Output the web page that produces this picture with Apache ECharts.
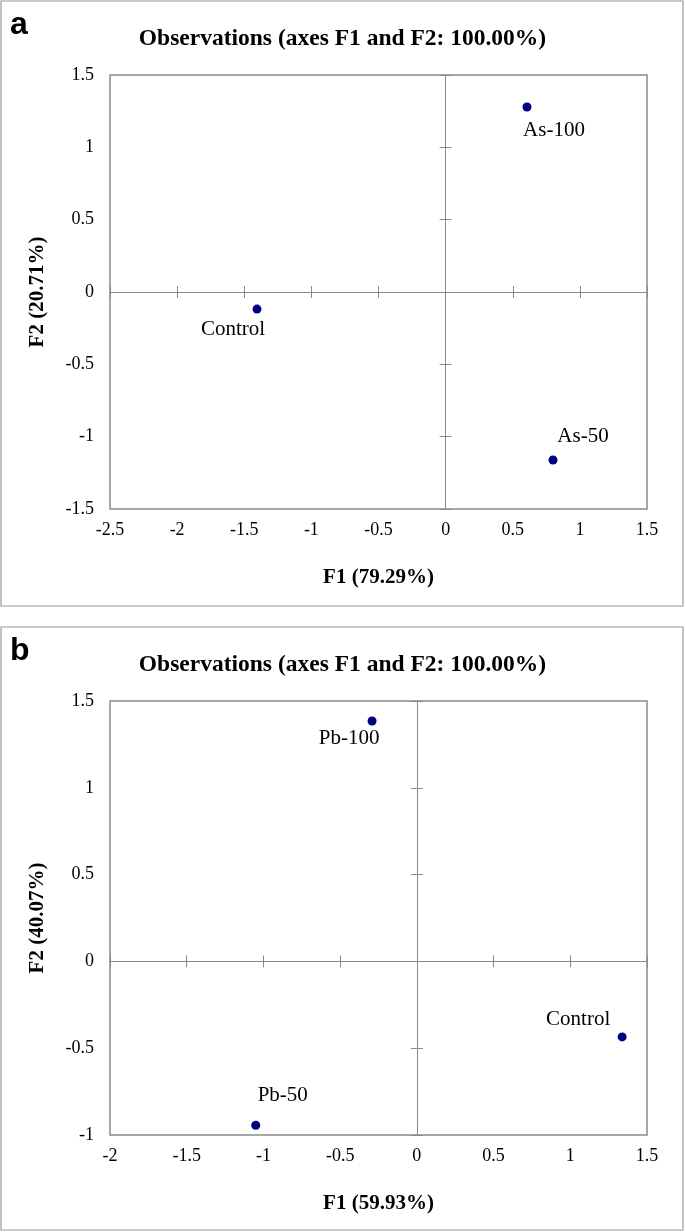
<!DOCTYPE html>
<html>
<head>
<meta charset="utf-8">
<script src="https://cdn.jsdelivr.net/npm/echarts@6/dist/echarts.min.js"></script>
<style>
html,body{margin:0;padding:0;background:#fff;}
#chart{width:685px;height:1232px;}
</style>
</head>
<body>
<div id="chart"></div>
<script>
// ---- data ----
const namesA = ['As-100', 'Control', 'As-50'];
const f1A = [0.606, -1.405, 0.80];
const f2A = [1.279, -0.118, -1.161];
const xNameA = 'F1 (79.29%)';
const yNameA = 'F2 (20.71%)';

const namesB = ['Pb-100', 'Control', 'Pb-50'];
const f1B = [-0.292, 1.338, -1.050];
const f2B = [1.385, -0.435, -0.944];
const xNameB = 'F1 (59.93%)';
const yNameB = 'F2 (40.07%)';

const titleText = 'Observations (axes F1 and F2: 100.00%)';
const panelLetters = ['a', 'b'];

// ---- layout / style (not data) ----
const labelOffsetsA = [[27, 24], [-24, 20], [30, -23]];
const labelOffsetsB = [[-23, 18], [-44, -17], [27, -30]];
const SERIF = '"Liberation Serif", "Times New Roman", serif';
const AXIS_GRAY = '#8a8a8a';

const panels = [
  {top: 75, names: namesA, f1: f1A, f2: f2A, xName: xNameA, yName: yNameA,
   xMin: -2.5, xMax: 1.5, yMin: -1.5, yMax: 1.5, offsets: labelOffsetsA, boxTop: 1, boxH: 605, letter: panelLetters[0]},
  {top: 701, names: namesB, f1: f1B, f2: f2B, xName: xNameB, yName: yNameB,
   xMin: -2, xMax: 1.5, yMin: -1, yMax: 1.5, offsets: labelOffsetsB, boxTop: 627, boxH: 603, letter: panelLetters[1]}
];

const grid = [], xAxis = [], yAxis = [], series = [], title = [], graphic = [];

panels.forEach((p, gi) => {
  grid.push({left: 110, top: p.top, width: 537, height: 434, show: true,
    borderColor: AXIS_GRAY, borderWidth: 1.5, backgroundColor: 'transparent'});

  const xBase = xAxis.length, yBase = yAxis.length;
  const commonX = {gridIndex: gi, type: 'value', min: p.xMin, max: p.xMax, interval: 0.5, splitLine: {show: false}};
  const commonY = {gridIndex: gi, type: 'value', min: p.yMin, max: p.yMax, interval: 0.5, splitLine: {show: false}};

  xAxis.push(Object.assign({}, commonX, {
    position: 'bottom',
    axisLine: {show: false, onZero: false},
    axisTick: {show: false},
    axisLabel: {color: '#000', fontFamily: SERIF, fontSize: 18, margin: 12},
    name: p.xName, nameLocation: 'middle', nameGap: 58,
    nameTextStyle: {color: '#000', fontFamily: SERIF, fontSize: 21, fontWeight: 'bold'}
  }));
  xAxis.push(Object.assign({}, commonX, {
    position: 'bottom',
    axisLine: {show: true, onZero: true, onZeroAxisIndex: yBase, lineStyle: {color: AXIS_GRAY, width: 1}},
    axisTick: {show: true, length: 6, lineStyle: {color: AXIS_GRAY, width: 1}},
    axisLabel: {show: false}
  }));
  xAxis.push(Object.assign({}, commonX, {
    position: 'top',
    axisLine: {show: true, onZero: true, onZeroAxisIndex: yBase, lineStyle: {color: AXIS_GRAY, width: 1}},
    axisTick: {show: true, length: 6, lineStyle: {color: AXIS_GRAY, width: 1}},
    axisLabel: {show: false}
  }));

  yAxis.push(Object.assign({}, commonY, {
    position: 'left',
    axisLine: {show: false, onZero: false},
    axisTick: {show: false},
    axisLabel: {color: '#000', fontFamily: SERIF, fontSize: 18, margin: 16},
    name: p.yName, nameLocation: 'middle', nameGap: 62, nameRotate: 90,
    nameTextStyle: {color: '#000', fontFamily: SERIF, fontSize: 21, fontWeight: 'bold'}
  }));
  yAxis.push(Object.assign({}, commonY, {
    position: 'left',
    axisLine: {show: true, onZero: true, onZeroAxisIndex: xBase, lineStyle: {color: AXIS_GRAY, width: 1}},
    axisTick: {show: true, length: 6, lineStyle: {color: AXIS_GRAY, width: 1}},
    axisLabel: {show: false}
  }));
  yAxis.push(Object.assign({}, commonY, {
    position: 'right',
    axisLine: {show: true, onZero: true, onZeroAxisIndex: xBase, lineStyle: {color: AXIS_GRAY, width: 1}},
    axisTick: {show: true, length: 6, lineStyle: {color: AXIS_GRAY, width: 1}},
    axisLabel: {show: false}
  }));

  series.push({
    type: 'scatter',
    xAxisIndex: xBase, yAxisIndex: yBase,
    symbol: 'circle', symbolSize: 9,
    itemStyle: {color: '#000080', opacity: 1},
    data: p.names.map((n, i) => ({
      name: n, value: [p.f1[i], p.f2[i]],
      label: {offset: p.offsets[i]}
    })),
    label: {
      show: true, position: 'inside', formatter: '{b}',
      color: '#000', fontFamily: SERIF, fontSize: 21,
      align: 'center', verticalAlign: 'middle'
    },
    emphasis: {disabled: true},
    animation: false
  });

  title.push({
    text: titleText, left: 'center', top: p.boxTop + 21,
    textStyle: {fontFamily: SERIF, fontSize: 23.5, fontWeight: 'bold', color: '#000'}
  });

  graphic.push({
    type: 'rect',
    shape: {x: 1, y: p.boxTop, width: 682, height: p.boxH},
    style: {fill: 'none', stroke: '#999', lineWidth: 1.2}, silent: true
  });
  graphic.push({
    type: 'text', x: 10, y: p.boxTop + 8,
    style: {text: p.letter, font: 'bold 32px "Liberation Sans", Arial, sans-serif', fill: '#000'}
  });
});

const chart = echarts.init(document.getElementById('chart'), null, {renderer: 'canvas'});
chart.setOption({
  animation: false,
  backgroundColor: '#fff',
  title, grid, xAxis, yAxis, series, graphic
});
</script>
</body>
</html>
